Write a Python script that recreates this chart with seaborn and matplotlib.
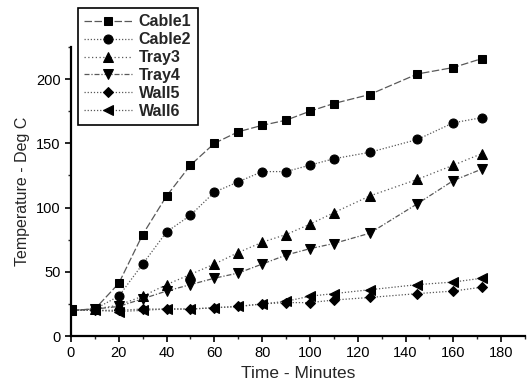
import matplotlib
matplotlib.use("Agg")
import matplotlib.pyplot as plt
from matplotlib.ticker import MultipleLocator
import seaborn as sns
import pandas as pd

time_min = [0, 10, 20, 30, 40, 50, 60, 70, 80, 90, 100, 110, 125, 145, 160, 172]
cable1 = [20, 21, 41, 79, 109, 133, 150, 159, 164, 168, 175, 181, 188, 204, 209, 216]
cable2 = [20, 21, 31, 56, 81, 94, 112, 120, 128, 128, 133, 138, 143, 153, 166, 170]
tray3 = [20, 21, 24, 31, 40, 48, 56, 65, 73, 79, 87, 96, 109, 122, 133, 142]
tray4 = [20, 21, 23, 29, 35, 40, 45, 49, 56, 63, 68, 72, 80, 103, 121, 130]
wall5 = [20, 20, 20, 21, 21, 21, 22, 23, 25, 26, 26, 28, 30, 33, 35, 38]
wall6 = [20, 20, 19, 20, 21, 21, 22, 23, 25, 27, 31, 33, 36, 40, 42, 45]

series_names = ["Cable1", "Cable2", "Tray3", "Tray4", "Wall5", "Wall6"]
series_vals = [cable1, cable2, tray3, tray4, wall5, wall6]
markers = ["s", "o", "^", "v", "D", "<"]
styles = [(0, (6, 2)), (0, (1, 1.5)), (0, (1, 2)), (0, (4, 1.5, 1, 1.5)), (0, (1, 1.5)), (0, (1, 1.5))]
msizes = [6, 6.5, 7, 7, 5.5, 7]

sns.set_style("ticks")
plt.rcParams["font.family"] = ["Liberation Sans", "DejaVu Sans"]

fig = plt.figure(figsize=(5.31, 3.82), dpi=100)
ax = fig.add_axes([0.1337, 0.1204, 0.855, 0.7566])

for name, vals, m, ls, ms in zip(series_names, series_vals, markers, styles, msizes):
    df = pd.DataFrame({"t": time_min, "v": vals})
    sns.lineplot(data=df, x="t", y="v", ax=ax, color="0.35", linewidth=0.9,
                 linestyle=ls, marker=m, markersize=ms, markerfacecolor="black",
                 markeredgecolor="black", label=name)

ax.set_xlim(0, 190)
ax.set_ylim(0, 225)
ax.xaxis.set_major_locator(MultipleLocator(20))
ax.xaxis.set_minor_locator(MultipleLocator(10))
ax.yaxis.set_major_locator(MultipleLocator(50))
ax.yaxis.set_minor_locator(MultipleLocator(25))
ax.tick_params(which="major", direction="out", length=4, width=1.2, labelsize=10.5, colors="black")
ax.tick_params(which="minor", direction="out", length=2.5, width=1)
for s in ["top", "right"]:
    ax.spines[s].set_visible(False)
for s in ["left", "bottom"]:
    ax.spines[s].set_linewidth(1.6)
    ax.spines[s].set_color("black")

ax.set_xlabel("Time - Minutes", fontsize=12.5, labelpad=4)
ax.set_ylabel("Temperature - Deg C", fontsize=11.5, labelpad=4)

leg = ax.legend(loc="upper left", bbox_to_anchor=(78 / 531, 1 - 8 / 382),
                bbox_transform=fig.transFigure, borderaxespad=0, frameon=True, fancybox=False,
                edgecolor="black", framealpha=1, handlelength=3.0, handletextpad=0.4,
                labelspacing=0.18, borderpad=0.4, prop={"weight": "bold", "size": 11.5})
leg.get_frame().set_linewidth(1.2)

fig.savefig("out.png", dpi=100)
